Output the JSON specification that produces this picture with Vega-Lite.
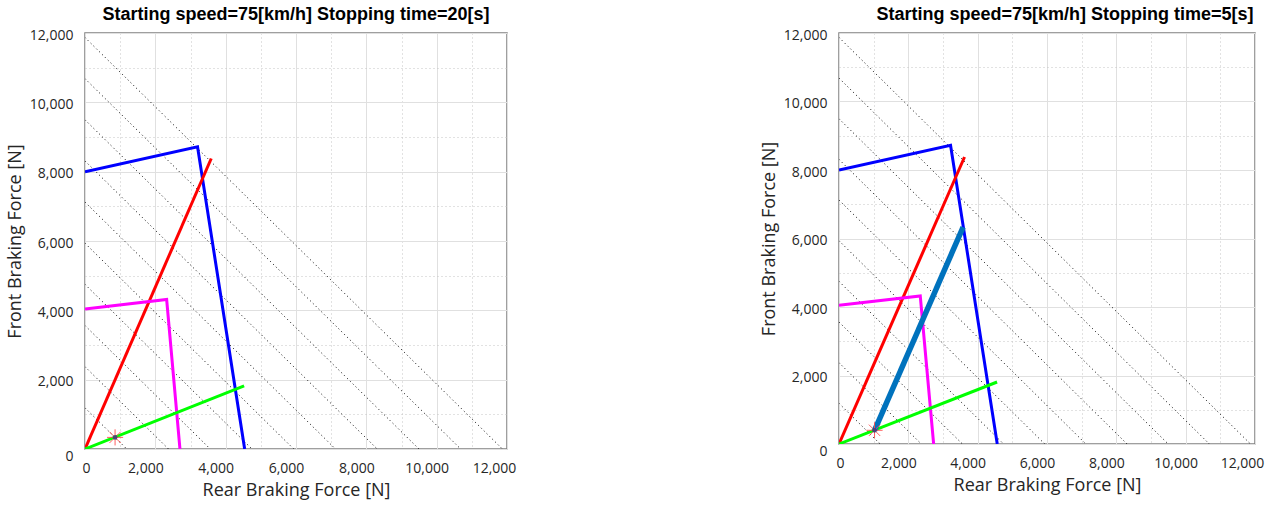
{
  "$schema": "https://vega.github.io/schema/vega-lite/v6.json",
  "background": "white",
  "padding": {"left": 5, "top": 5, "right": 18, "bottom": 4},
  "spacing": 242,
  "config": {
    "view": {"stroke": "#808080", "strokeWidth": 1.5},
    "title": {"font": "Liberation Sans", "fontSize": 18, "fontWeight": "bold", "color": "#000000", "offset": 4},
    "axis": {
      "labelFont": "Open Sans", "labelFontSize": 14, "labelColor": "#262626",
      "titleFont": "Open Sans", "titleFontSize": 18, "titleFontWeight": "normal", "titleColor": "#262626",
      "domain": false, "ticks": false, "grid": true, "gridWidth": 1,
      "labelPadding": 12, "labelOverlap": false, "labelFlush": false
    }
  },
  "datasets": {
    "diag": [
      {"k": 1, "rear": 0, "front": 1187}, {"k": 1, "rear": 1187, "front": 0},
      {"k": 2, "rear": 0, "front": 2374}, {"k": 2, "rear": 2374, "front": 0},
      {"k": 3, "rear": 0, "front": 3561}, {"k": 3, "rear": 3561, "front": 0},
      {"k": 4, "rear": 0, "front": 4748}, {"k": 4, "rear": 4748, "front": 0},
      {"k": 5, "rear": 0, "front": 5935}, {"k": 5, "rear": 5935, "front": 0},
      {"k": 6, "rear": 0, "front": 7122}, {"k": 6, "rear": 7122, "front": 0},
      {"k": 7, "rear": 0, "front": 8309}, {"k": 7, "rear": 8309, "front": 0},
      {"k": 8, "rear": 0, "front": 9496}, {"k": 8, "rear": 9496, "front": 0},
      {"k": 9, "rear": 0, "front": 10683}, {"k": 9, "rear": 10683, "front": 0},
      {"k": 10, "rear": 0, "front": 11870}, {"k": 10, "rear": 11870, "front": 0}
    ],
    "left": [
      {"series": "high_mu_limit", "ord": 1, "rear": 0, "front": 8000},
      {"series": "high_mu_limit", "ord": 2, "rear": 3200, "front": 8720},
      {"series": "high_mu_limit", "ord": 3, "rear": 4540, "front": 0},
      {"series": "installed", "ord": 1, "rear": 0, "front": 0},
      {"series": "installed", "ord": 2, "rear": 3590, "front": 8380},
      {"series": "low_mu_limit", "ord": 1, "rear": 0, "front": 4040},
      {"series": "low_mu_limit", "ord": 2, "rear": 2322, "front": 4312},
      {"series": "low_mu_limit", "ord": 3, "rear": 2700, "front": 0},
      {"series": "regen_line", "ord": 1, "rear": 0, "front": 0},
      {"series": "regen_line", "ord": 2, "rear": 4525, "front": 1820}
    ],
    "right": [
      {"series": "high_mu_limit", "ord": 1, "rear": 0, "front": 8000},
      {"series": "high_mu_limit", "ord": 2, "rear": 3218, "front": 8720},
      {"series": "high_mu_limit", "ord": 3, "rear": 4565, "front": 0},
      {"series": "installed", "ord": 1, "rear": 0, "front": 0},
      {"series": "installed", "ord": 2, "rear": 3621, "front": 8380},
      {"series": "low_mu_limit", "ord": 1, "rear": 0, "front": 4050},
      {"series": "low_mu_limit", "ord": 2, "rear": 2344, "front": 4321},
      {"series": "low_mu_limit", "ord": 3, "rear": 2730, "front": 0},
      {"series": "regen_line", "ord": 1, "rear": 0, "front": 0},
      {"series": "regen_line", "ord": 2, "rear": 4560, "front": 1810}
    ],
    "right_path": [
      {"ord": 1, "rear": 1025, "front": 400},
      {"ord": 2, "rear": 3580, "front": 6330}
    ],
    "left_star": [{"rear": 855, "front": 335}],
    "right_star": [{"rear": 1025, "front": 400}]
  },
  "hconcat": [
    {
      "width": 422, "height": 416,
      "title": "Starting speed=75[km/h] Stopping time=20[s]",
      "encoding": {
        "x": {"field": "rear", "type": "quantitative", "scale": {"domain": [0, 12000], "nice": false}, "title": "Rear Braking Force [N]",
          "axis": {"values": [0, 1000, 2000, 3000, 4000, 5000, 6000, 7000, 8000, 9000, 10000, 11000, 12000],
            "labelExpr": "datum.value % 2000 == 0 ? format(datum.value, ',') : ''",
            "gridColor": {"condition": {"test": "datum.value % 2000 == 0", "value": "#e0e0e0"}, "value": "#c4c4c4"},
            "gridDash": {"condition": {"test": "datum.value % 2000 == 0", "value": []}, "value": [1, 3]},
            "titlePadding": 6,
            "labelOffset": {"condition": [{"test": "datum.value == 0", "value": 1}, {"test": "datum.value == 12000", "value": -13}], "value": -10}}},
        "y": {"field": "front", "type": "quantitative", "scale": {"domain": [0, 12000], "nice": false}, "title": "Front Braking Force [N]",
          "axis": {"values": [0, 1000, 2000, 3000, 4000, 5000, 6000, 7000, 8000, 9000, 10000, 11000, 12000],
            "labelExpr": "datum.value % 2000 == 0 ? format(datum.value, ',') : ''",
            "gridColor": {"condition": {"test": "datum.value % 2000 == 0", "value": "#e0e0e0"}, "value": "#c4c4c4"},
            "gridDash": {"condition": {"test": "datum.value % 2000 == 0", "value": []}, "value": [1, 3]},
            "titlePadding": 5,
            "labelOffset": {"condition": {"test": "datum.value == 0", "value": 7}, "value": 2}}}
      },
      "layer": [
        {
          "data": {"name": "diag"},
          "mark": {"type": "line", "color": "#000000", "strokeWidth": 1, "strokeDash": [1, 3], "clip": true},
          "encoding": {"detail": {"field": "k"}}
        },
        {
          "data": {"name": "left"},
          "mark": {"type": "line", "strokeWidth": 3, "clip": true},
          "encoding": {
            "color": {"field": "series", "type": "nominal", "legend": null,
              "scale": {"domain": ["high_mu_limit", "installed", "low_mu_limit", "regen_line"], "range": ["#0000ff", "#ff0000", "#ff00ff", "#00ff00"]}},
            "order": {"field": "ord"}
          }
        },
        {
          "data": {"name": "left_star"},
          "mark": {"type": "point", "shape": "M0,-1L0,1M-1,0L1,0M-0.7,-0.7L0.7,0.7M-0.7,0.7L0.7,-0.7", "size": 260, "stroke": "#ff5050", "strokeWidth": 1, "filled": false, "opacity": 0.9}
        },
        {
          "data": {"name": "left_star"},
          "mark": {"type": "point", "shape": "circle", "size": 22, "fill": "#2b3a80", "filled": true, "opacity": 0.8}
        }
      ]
    },
    {
      "width": 416, "height": 411,
      "title": {"text": "Starting speed=75[km/h] Stopping time=5[s]", "dx": 18},
      "encoding": {
        "x": {"field": "rear", "type": "quantitative", "scale": {"domain": [0, 12000], "nice": false}, "title": "Rear Braking Force [N]",
          "axis": {"values": [0, 1000, 2000, 3000, 4000, 5000, 6000, 7000, 8000, 9000, 10000, 11000, 12000],
            "labelExpr": "datum.value % 2000 == 0 ? format(datum.value, ',') : ''",
            "gridColor": {"condition": {"test": "datum.value % 2000 == 0", "value": "#e0e0e0"}, "value": "#c4c4c4"},
            "gridDash": {"condition": {"test": "datum.value % 2000 == 0", "value": []}, "value": [1, 3]},
            "titlePadding": 6,
            "labelOffset": {"condition": [{"test": "datum.value == 0", "value": 1}, {"test": "datum.value == 12000", "value": -13}], "value": -10}}},
        "y": {"field": "front", "type": "quantitative", "scale": {"domain": [0, 12000], "nice": false}, "title": "Front Braking Force [N]",
          "axis": {"values": [0, 1000, 2000, 3000, 4000, 5000, 6000, 7000, 8000, 9000, 10000, 11000, 12000],
            "labelExpr": "datum.value % 2000 == 0 ? format(datum.value, ',') : ''",
            "gridColor": {"condition": {"test": "datum.value % 2000 == 0", "value": "#e0e0e0"}, "value": "#c4c4c4"},
            "gridDash": {"condition": {"test": "datum.value % 2000 == 0", "value": []}, "value": [1, 3]},
            "titlePadding": 5,
            "labelOffset": {"condition": {"test": "datum.value == 0", "value": 7}, "value": 2}}}
      },
      "layer": [
        {
          "data": {"name": "diag"},
          "mark": {"type": "line", "color": "#000000", "strokeWidth": 1, "strokeDash": [1, 3], "clip": true},
          "encoding": {"detail": {"field": "k"}}
        },
        {
          "data": {"name": "right"},
          "mark": {"type": "line", "strokeWidth": 3, "clip": true},
          "encoding": {
            "color": {"field": "series", "type": "nominal", "legend": null,
              "scale": {"domain": ["high_mu_limit", "installed", "low_mu_limit", "regen_line"], "range": ["#0000ff", "#ff0000", "#ff00ff", "#00ff00"]}},
            "order": {"field": "ord"}
          }
        },
        {
          "data": {"name": "right_path"},
          "mark": {"type": "line", "strokeWidth": 5.5, "color": "#0072bd", "clip": true},
          "encoding": {"order": {"field": "ord"}}
        },
        {
          "data": {"name": "right_star"},
          "mark": {"type": "point", "shape": "M0,-1L0,1M-1,0L1,0M-0.7,-0.7L0.7,0.7M-0.7,0.7L0.7,-0.7", "size": 260, "stroke": "#ff5050", "strokeWidth": 1, "filled": false, "opacity": 0.9}
        },
        {
          "data": {"name": "right_star"},
          "mark": {"type": "point", "shape": "circle", "size": 22, "fill": "#2b3a80", "filled": true, "opacity": 0.8}
        }
      ]
    }
  ]
}
